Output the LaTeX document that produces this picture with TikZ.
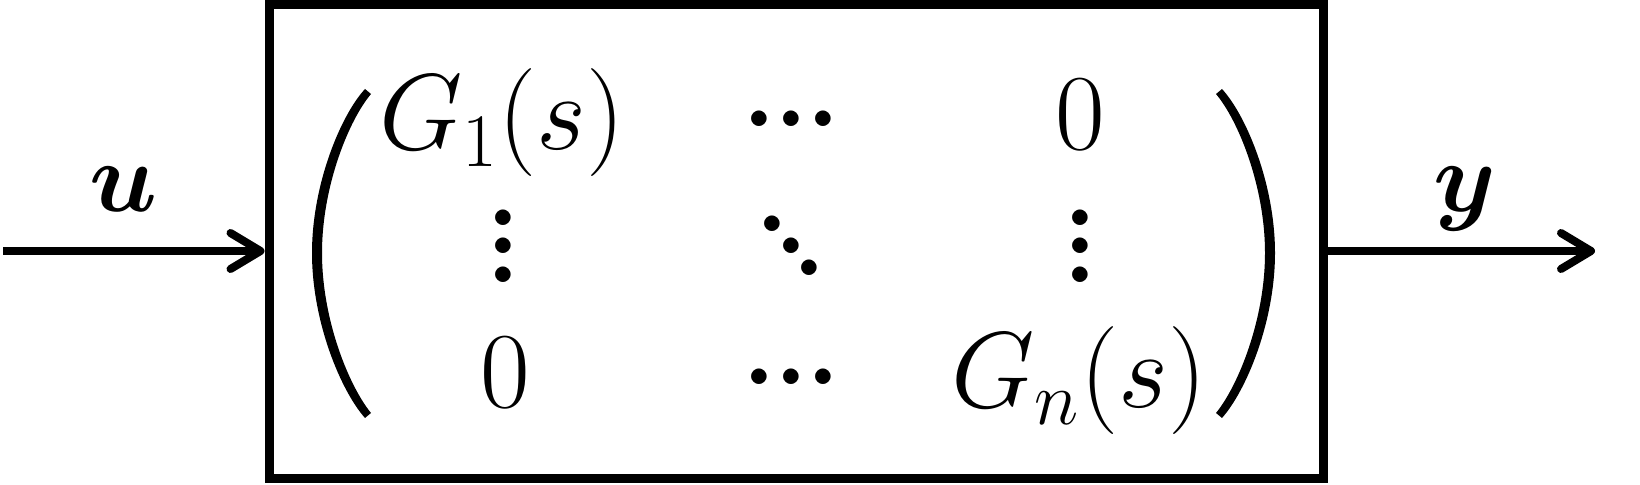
\RequirePackage{fix-cm}
\documentclass[tikz,border=0pt]{standalone}
\usepackage{amsmath,bm}
\usetikzlibrary{arrows.meta}
\newcommand\myhdots{\hbox{\bfseries.\kern-0.95pt.\kern-0.95pt.}}
\newcommand\myvdots{\vbox{\bfseries\baselineskip=14.25pt\lineskiplimit=-100pt\lineskip=0pt\hbox{.}\hbox{.}\hbox{.}}}
\newcommand\myddots{\hbox{\bfseries\raisebox{22pt}{.}\kern-7.7pt\raisebox{11pt}{.}\kern-7.7pt.}}
\begin{document}
\begin{tikzpicture}[x=0.5pt,y=-0.5pt,
  ent/.style={inner sep=0pt, anchor=base, font=\fontsize{54}{60}\selectfont},
  dotnode/.style={inner sep=0pt, anchor=center, font=\fontsize{54}{60}\selectfont},
  lab/.style={inner sep=0pt, anchor=base, font=\fontsize{50}{56}\selectfont},
  sig/.style={line width=4pt, -{Straight Barb[length=15pt,width=18pt,round]}},
  blockbox/.style={draw, line width=4.5pt, inner sep=0pt, minimum width=527pt, minimum height=237pt}]
\useasboundingbox (0,0) rectangle (1640,485);
% block
\node[blockbox] (blk) at (796,242) {};
% signals
\coordinate (in) at (3,251);
\coordinate (out) at (1595,251);
\draw[sig] (in) -- (in -| blk.west);
\draw[sig] (out -| blk.east) -- (out);
\node[lab] (u) at (124,212) {$\boldsymbol{u}$};
\node[lab] (y) at (1465,212) {$\boldsymbol{y}$};
% matrix entries
\node[ent] (g1) at (502,150) {$G_1(s)$};
\node[dotnode] (c1) at (791,119) {\myhdots};
\node[ent] (z1) at (1080,150) {$0$};
\node[dotnode] (v1) at (503,246) {\myvdots};
\node[dotnode] (d1) at (791,246) {\myddots};
\node[dotnode] (v2) at (1080,246) {\myvdots};
\node[ent] (z2) at (505,408) {$0$};
\node[dotnode] (c2) at (791,377) {\myhdots};
\node[ent] (gn) at (1079,408) {$G_n(s)$};
% parentheses
\fill (365,89) .. controls (341,115) and (312,184) .. (312,253)
  .. controls (312,322) and (341,391) .. (365,418)
  -- (371,413) .. controls (349,386) and (322,320) .. (322,253)
  .. controls (322,186) and (349,120) .. (371,94) -- cycle;
\fill (1222,89) .. controls (1246,115) and (1275,184) .. (1275,253)
  .. controls (1275,322) and (1246,391) .. (1222,418)
  -- (1216,413) .. controls (1238,386) and (1265,320) .. (1265,253)
  .. controls (1265,186) and (1238,120) .. (1216,94) -- cycle;
\end{tikzpicture}
\end{document}
